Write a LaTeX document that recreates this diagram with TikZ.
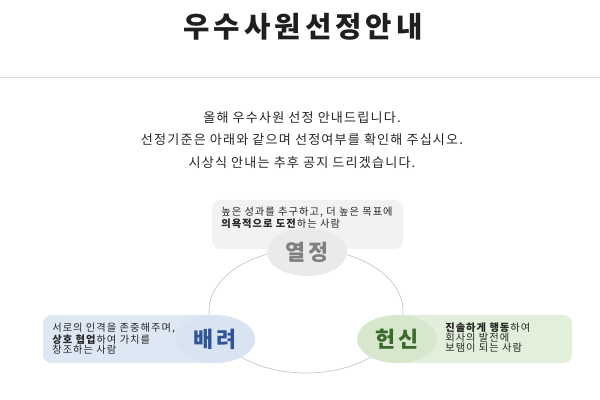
\documentclass[tikz,border=0pt]{standalone}
\usepackage{fontspec}
\setmainfont{Noto Sans CJK KR}
\usetikzlibrary{shapes.geometric, positioning}

\definecolor{rulegray}{HTML}{DDDDDD}
\definecolor{ringgray}{HTML}{C8C8C8}
\definecolor{passfill}{HTML}{F2F2F2}
\definecolor{passdot}{HTML}{EAEAEA}
\definecolor{passtext}{HTML}{808080}
\definecolor{carefill}{HTML}{DEE8F4}
\definecolor{caredot}{HTML}{D8E4F2}
\definecolor{caretext}{HTML}{2F5597}
\definecolor{devfill}{HTML}{E2EFDA}
\definecolor{devdot}{HTML}{D7E7CD}
\definecolor{devtext}{HTML}{3B6B2A}

\begin{document}
\begin{tikzpicture}[x=0.025cm, y=-0.025cm,
  valuedot/.style={ellipse, inner sep=0pt, minimum width=2cm, minimum height=1.2cm,
    font=\fontsize{15.5}{15.5}\selectfont\bfseries\addfontfeature{LetterSpace=12}},
  valuenote/.style={anchor=north west, inner sep=0pt, align=left,
    font=\fontsize{7.3}{7.1}\selectfont\addfontfeature{LetterSpace=10}, text=black!85}]
\useasboundingbox (0,0) rectangle (600,400);
\fill [white] (0,0) rectangle (600,400);

% title and rule
\node [font=\fontsize{20.4}{20}\selectfont\bfseries\addfontfeature{LetterSpace=14}, text=black!88] (title) at (303,27) {우수사원선정안내};
\draw [rulegray, line width=0.7pt] (0,77) -- (600,77);

% notice
\node [font=\fontsize{9.3}{16}\selectfont\addfontfeature{LetterSpace=9}, align=center, text=black!85] (notice) at (302,140)
  {올해 우수사원 선정 안내드립니다.\\ 선정기준은 아래와 같으며 선정여부를 확인해 주십시오.\\ 시상식 안내는 추후 공지 드리겠습니다.};

% ring
\draw [ringgray, line width=0.5pt] (306,311) ellipse [x radius=2.425cm, y radius=1.55cm];

% boxes
\fill [passfill, rounded corners=6pt] (212,200) rectangle (403,249);
\fill [carefill, rounded corners=6pt] (43,315) rectangle (220,363);
\fill [devfill, rounded corners=6pt] (392,315) rectangle (572,363);

% value dots
\node [valuedot, fill=passdot, text=passtext] (pass) at (307,252) {열정};
\node [valuedot, fill=caredot, text=caretext] (care) at (215,339) {배려};
\node [valuedot, fill=devdot, text=devtext] (dev) at (397,339) {헌신};

\node [valuenote, font=\fontsize{7.3}{6.8}\selectfont\addfontfeature{LetterSpace=10}] (passnote) at (221,207) {높은 성과를 추구하고, 더 높은 목표에\\ \textbf{의욕적으로 도전}하는 사람};
\node [valuenote] (carenote) at (52,323) {서로의 인격을 존중해주며,\\ \textbf{상호 협업}하여 가치를\\ 창조하는 사람};
\node [valuenote] (devnote) at (445,323) {\textbf{진솔하게 행동}하여\\ 회사의 발전에\\ 보탬이 되는 사람};
\end{tikzpicture}
\end{document}
